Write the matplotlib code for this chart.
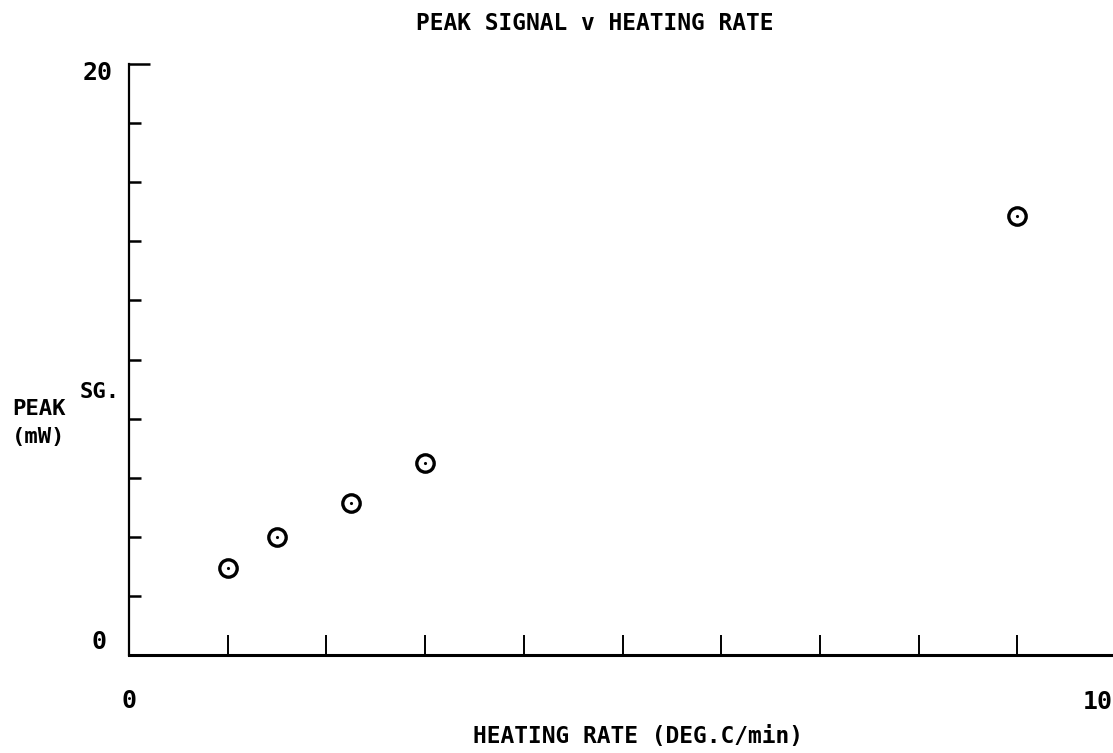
import numpy as np
import matplotlib.pyplot as plt

# data
heating_rate = [1.0, 1.5, 2.25, 3.0, 9.0]      # DEG.C/min
peak_signal = [2.95, 4.0, 5.15, 6.5, 14.85]    # mW

x_ticks = np.arange(1, 10)
y_ticks = np.arange(2, 20, 2)

font = 'DejaVu Sans Mono'

fig = plt.figure(figsize=(11.13, 7.53), dpi=100)
ax = fig.add_axes([129/1113, 1 - 655/753, 987/1113, 591/753])
ax.set_xlim(0, 10)
ax.set_ylim(0, 20)

for s in ['top', 'right']:
    ax.spines[s].set_visible(False)
ax.spines['bottom'].set_linewidth(2.2)
ax.spines['left'].set_linewidth(1.6)

ax.set_xticks(x_ticks)
ax.set_yticks(y_ticks)
ax.set_yticks([20], minor=True)
ax.tick_params(axis='x', which='major', direction='in', length=14.5, width=1.4,
               labelbottom=False)
ax.tick_params(axis='y', which='major', direction='in', length=8.5, width=1.8,
               labelleft=False)
ax.tick_params(axis='y', which='minor', direction='in', length=15, width=1.8,
               labelleft=False)

# circled points with centre dot
ax.plot(heating_rate, peak_signal, 'o', ms=12.5, mfc='none', mec='black',
        mew=2.4, clip_on=False)
ax.plot(heating_rate, peak_signal, '.', ms=2.5, color='black', clip_on=False)

# axis numbers
ax.text(0, -1.55, '0', ha='center', va='center', family=font,
        fontweight='bold', fontsize=18)
ax.text(9.97, -1.6, '10', ha='right', va='center', family=font,
        fontweight='bold', fontsize=18)
ax.text(-0.32, 19.7, '20', ha='center', va='center', family=font,
        fontweight='bold', fontsize=18)
ax.text(-0.3, 0.45, '0', ha='center', va='center', family=font,
        fontweight='bold', fontsize=18)

# titles
fig.text(595/1113, 1 - 23/753, 'PEAK SIGNAL v HEATING RATE', ha='center',
         va='center', family=font, fontweight='bold', fontsize=16.5)
fig.text(638/1113, 1 - 736/753, 'HEATING RATE (DEG.C/min)', ha='center',
         va='center', family=font, fontweight='bold', fontsize=16.5)
fig.text(12/1113, 1 - 409/753, 'PEAK', ha='left', va='center', family=font,
         fontweight='bold', fontsize=16)
fig.text(80/1113, 1 - 392/753, 'SG.', ha='left', va='center', family=font,
         fontweight='bold', fontsize=16)
fig.text(12/1113, 1 - 437/753, '(mW)', ha='left', va='center', family=font,
         fontweight='bold', fontsize=16)

fig.savefig('out.png', dpi=100)
